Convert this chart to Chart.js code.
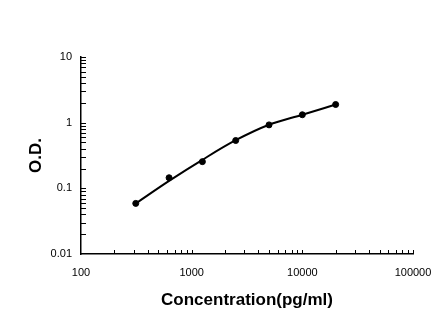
<!DOCTYPE html>
<html>
<head>
<meta charset="utf-8">
<script src="https://cdn.jsdelivr.net/npm/chart.js@4"></script>
<style>
html,body{margin:0;padding:0;background:#fff;}
#wrap{width:446px;height:326px;}
</style>
</head>
<body>
<div id="wrap"><canvas id="c" width="446" height="326"></canvas></div>
<script>
// Data
const concentrations = [312.5, 625, 1250, 2500, 5000, 10000, 20000];
const odValues = [0.059, 0.145, 0.255, 0.535, 0.925, 1.32, 1.89];
// fitted curve as it appears in the picture (read at the same concentrations)
const curveValues = [0.059, 0.13, 0.272, 0.54, 0.93, 1.32, 1.89];
const xTickLabels = [100, 1000, 10000, 100000];
const yTickLabels = [0.01, 0.1, 1, 10];

const FONT = '"Liberation Sans", Arial, sans-serif';

const innerTicks = {
  id: 'innerTicks',
  afterDraw(chart) {
    const ctx = chart.ctx;
    const xs = chart.scales.x, ys = chart.scales.y;
    const area = chart.chartArea;
    ctx.save();
    ctx.strokeStyle = '#000';
    ctx.lineWidth = 1;
    ctx.beginPath();
    xs.ticks.forEach(t => {
      const p = Math.round(xs.getPixelForValue(t.value)) + 0.5;
      if (Math.abs(p - area.left) < 1) return;
      ctx.moveTo(p, area.bottom);
      ctx.lineTo(p, area.bottom - 4);
    });
    ys.ticks.forEach(t => {
      const p = Math.round(ys.getPixelForValue(t.value)) + 0.5;
      if (Math.abs(p - area.bottom) < 1) return;
      ctx.moveTo(area.left, p);
      ctx.lineTo(area.left + 5, p);
    });
    ctx.stroke();
    ctx.restore();
  }
};

new Chart(document.getElementById('c'), {
  type: 'scatter',
  data: {
    datasets: [
      {
        type: 'line',
        data: concentrations.map((x, i) => ({x, y: curveValues[i]})),
        borderColor: '#000',
        borderWidth: 2,
        pointRadius: 0,
        tension: 0.4,
        cubicInterpolationMode: 'monotone',
        fill: false
      },
      {
        data: concentrations.map((x, i) => ({x, y: odValues[i]})),
        backgroundColor: '#000',
        borderColor: '#000',
        pointRadius: 3,
        pointHoverRadius: 3
      }
    ]
  },
  options: {
    responsive: false,
    animation: false,
    events: [],
    layout: {padding: {left: 0, right: 33, top: 57, bottom: 0}},
    plugins: {legend: {display: false}, tooltip: {enabled: false}},
    scales: {
      x: {
        type: 'logarithmic',
        min: 100, max: 100000,
        grid: {display: false, drawTicks: false},
        border: {display: true, color: '#000', width: 1.5},
        afterBuildTicks(scale) {
          const t = [];
          for (let e = 2; e <= 5; e++) {
            for (let m = 1; m <= 9; m++) {
              const v = m * Math.pow(10, e);
              if (v <= 100000) t.push({value: v});
            }
          }
          scale.ticks = t;
        },
        ticks: {
          autoSkip: false, maxRotation: 0, padding: 12,
          color: '#000', font: {family: FONT, size: 11},
          callback: (v) => xTickLabels.includes(v) ? String(v) : ''
        },
        title: {
          display: true, text: 'Concentration(pg/ml)', color: '#000',
          font: {family: FONT, size: 17, weight: 'bold'},
          padding: {top: 0, bottom: 15}
        },
        afterFit(scale) { scale.height = 72; }
      },
      y: {
        type: 'logarithmic',
        min: 0.01, max: 10,
        grid: {display: false, drawTicks: false},
        border: {display: true, color: '#000', width: 1.5},
        afterBuildTicks(scale) {
          const t = [];
          for (let e = -2; e <= 1; e++) {
            for (let m = 1; m <= 9; m++) {
              const v = m * Math.pow(10, e);
              if (v <= 10 + 1e-9) t.push({value: parseFloat(v.toPrecision(3))});
            }
          }
          scale.ticks = t;
        },
        ticks: {
          autoSkip: false, padding: 9,
          color: '#000', font: {family: FONT, size: 11},
          callback: (v) => yTickLabels.some(y => Math.abs(y - v) < 1e-9) ? String(v) : ''
        },
        title: {
          display: true, text: 'O.D.', color: '#000',
          font: {family: FONT, size: 17, weight: 'bold'},
          padding: {top: 26, bottom: 0}
        },
        afterFit(scale) { scale.width = 81; }
      }
    }
  },
  plugins: [innerTicks]
});
</script>
</body>
</html>
